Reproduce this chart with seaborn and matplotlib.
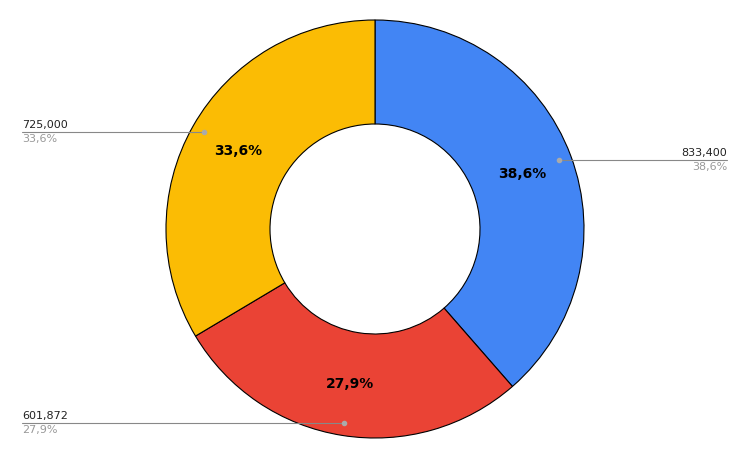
import numpy as np
import matplotlib
matplotlib.use("Agg")
import matplotlib.pyplot as plt
import seaborn as sns

sns.set_theme(style="white")
categories = ["A", "B", "C"]
values = [833400, 601872, 725000]
value_labels = ["833,400", "601,872", "725,000"]
pct_labels = ["38,6%", "27,9%", "33,6%"]
colors = ["#4285F4", "#EA4335", "#FBBC04"]

W, H = 747, 461
fig = plt.figure(figsize=(W/100, H/100), dpi=100)
ax = fig.add_axes([0, 0, 1, 1])
ax.set_xlim(0, W); ax.set_ylim(0, H); ax.axis("off")
cx, cy, R, r_in = 375, H - 229, 209, 105
ax.pie(values, colors=colors, startangle=90, counterclock=False, center=(cx, cy),
       radius=R, wedgeprops=dict(width=R - r_in, edgecolor="black", linewidth=0.8), frame=True)
ax.set_xlim(0, W); ax.set_ylim(0, H); ax.axis("off"); ax.set_aspect("equal")

total = sum(values)
cum = 0
for v, vl, pl in zip(values, value_labels, pct_labels):
    mid = (cum + v / 2) / total
    cum += v
    a = np.deg2rad(90 - 360 * mid)
    rm = (R + r_in) / 2
    ax.text(cx + rm*np.cos(a), cy + rm*np.sin(a), pl, ha="center", va="center",
            fontsize=10, fontweight="bold", color="black")
    px, py = cx + 0.94*R*np.cos(a), cy + 0.94*R*np.sin(a)
    if np.cos(a) > 0:
        ex, ha = 727, "right"
    else:
        ex, ha = 22, "left"
    ax.plot([px, ex], [py, py], color="#888888", lw=0.8)
    ax.plot(px, py, "o", color="#aaaaaa", ms=3)
    ax.text(ex, py + 2, vl, ha=ha, va="bottom", fontsize=8, color="#222222")
    ax.text(ex, py - 2, pl, ha=ha, va="top", fontsize=8, color="#999999")

fig.savefig("out.png", dpi=100)
